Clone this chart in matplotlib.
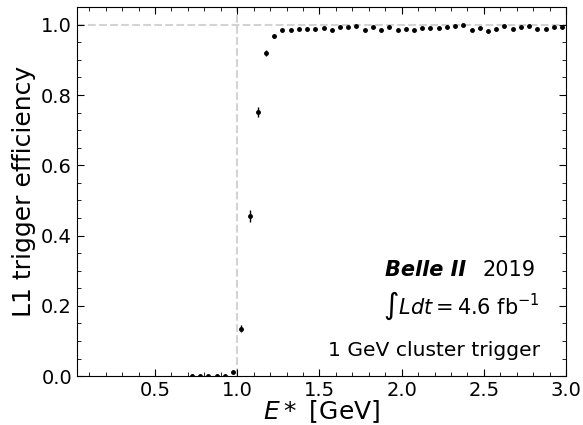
import numpy as np
import matplotlib
matplotlib.use("Agg")
import matplotlib.pyplot as plt
from matplotlib.ticker import MultipleLocator

# bin centres (0.05 GeV bins) and measured efficiency
e_star = [0.725, 0.775, 0.825, 0.875, 0.925, 0.975, 1.025, 1.075, 1.125, 1.175,
          1.225, 1.275, 1.325, 1.375, 1.425, 1.475, 1.525, 1.575, 1.625, 1.675,
          1.725, 1.775, 1.825, 1.875, 1.925, 1.975, 2.025, 2.075, 2.125, 2.175,
          2.225, 2.275, 2.325, 2.375, 2.425, 2.475, 2.525, 2.575, 2.625, 2.675,
          2.725, 2.775, 2.825, 2.875, 2.925, 2.975]
eff = [0.0, 0.0, 0.0, 0.0, 0.0, 0.013, 0.135, 0.455, 0.752, 0.920,
       0.967, 0.984, 0.984, 0.988, 0.988, 0.989, 0.990, 0.986, 0.993, 0.993,
       0.996, 0.986, 0.993, 0.984, 0.995, 0.984, 0.989, 0.986, 0.991, 0.991,
       0.991, 0.995, 0.996, 0.999, 0.986, 0.991, 0.982, 0.989, 0.996, 0.989,
       0.993, 0.996, 0.989, 0.989, 0.993, 0.993]
eff_err = [0.001, 0.001, 0.001, 0.001, 0.001, 0.003, 0.010, 0.017, 0.014, 0.008,
           0.004, 0.003, 0.003, 0.003, 0.003, 0.003, 0.003, 0.003, 0.003, 0.003,
           0.003, 0.003, 0.003, 0.003, 0.003, 0.003, 0.003, 0.003, 0.003, 0.003,
           0.003, 0.003, 0.003, 0.003, 0.003, 0.003, 0.003, 0.003, 0.003, 0.003,
           0.003, 0.003, 0.003, 0.003, 0.003, 0.003]

fig = plt.figure(figsize=(5.83, 4.25), dpi=100)
ax = fig.add_axes([0.132, 0.115, 0.839, 0.868])

# reference lines at 100% and 1 GeV threshold
ax.axhline(1.0, color="lightgray", linestyle="--", linewidth=1.5, zorder=1)
ax.axvline(1.0, color="lightgray", linestyle="--", linewidth=1.5, zorder=1)

ax.errorbar(e_star, eff, yerr=eff_err, fmt="o", color="black",
            markersize=2.5, elinewidth=1, capsize=0, zorder=3)

ax.set_xlim(0.025, 3.0)
ax.set_ylim(0.0, 1.05)
ax.xaxis.set_major_locator(MultipleLocator(0.5))
ax.xaxis.set_minor_locator(MultipleLocator(0.1))
ax.yaxis.set_major_locator(MultipleLocator(0.2))
ax.yaxis.set_minor_locator(MultipleLocator(0.05))
ax.set_xticks([0.5, 1.0, 1.5, 2.0, 2.5, 3.0])
ax.tick_params(which="both", direction="in", top=True, right=True, labelsize=14)
ax.tick_params(which="major", length=5)
ax.tick_params(which="minor", length=3)

ax.set_xlabel(r"$E*$ [GeV]", fontsize=18, labelpad=-1)
ax.set_ylabel("L1 trigger efficiency", fontsize=18)

ax.text(0.796, 0.289, "Belle II", transform=ax.transAxes, fontsize=15,
        fontweight="bold", fontstyle="italic", ha="right", va="center")
ax.text(0.83, 0.289, "2019", transform=ax.transAxes, fontsize=15,
        ha="left", va="center")
ax.text(0.947, 0.191, r"$\int L dt = 4.6$ fb$^{-1}$", transform=ax.transAxes,
        fontsize=15, ha="right", va="center")
ax.text(0.947, 0.069, "1 GeV cluster trigger", transform=ax.transAxes,
        fontsize=14.6, ha="right", va="center")

fig.savefig("out.png", dpi=100)
